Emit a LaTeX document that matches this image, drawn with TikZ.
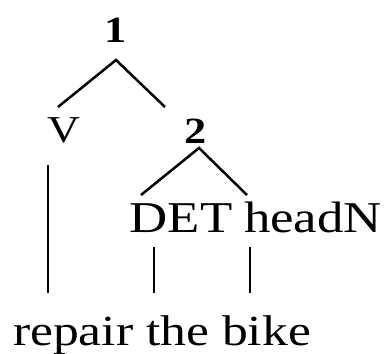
\documentclass[tikz,border=0pt]{standalone}
\usepackage{fontspec}
\setmainfont{Liberation Serif}
\newfontfamily\tf[FakeStretch=1.2]{Liberation Serif}
\begin{document}
\begin{tikzpicture}[x=1pt,y=-1pt,
  lbl/.style={inner sep=0pt,anchor=base,font=\tf\fontsize{44}{48}\selectfont},
  num/.style={inner sep=0pt,anchor=base,font=\tf\bfseries\fontsize{37}{40}\selectfont},
  edge/.style={line width=2.5pt}]
\useasboundingbox (0,0) rectangle (385,353);
\node[num] (n1) at (116,42) {1};
\node[lbl,font=\tf\fontsize{38}{40}\selectfont] (v) at (64,142) {V};
\node[num] (n2) at (196,143) {2};
\node[lbl] (det) at (181,232) {DET};
\node[lbl] (hn) at (313,232) {headN};
\node[lbl,font=\tf\fontsize{43}{46}\selectfont] (words) at (162,345) {repair the bike};
\coordinate (a1) at (116,60);
\coordinate (l1) at (58,107);
\coordinate (r1) at (165,107);
\coordinate (a2) at (199,148);
\coordinate (l2) at (141,195);
\coordinate (r2) at (247,195);
\coordinate (vt) at (48,165);
\coordinate (vb) at (48,293);
\coordinate (dt) at (154,247);
\coordinate (db) at (154,293);
\coordinate (ht) at (250,247);
\coordinate (hb) at (250,293);
\draw[edge] (l1) -- (a1) -- (r1);
\draw[edge] (l2) -- (a2) -- (r2);
\draw[edge] (vt) -- (vb);
\draw[edge] (dt) -- (db);
\draw[edge] (ht) -- (hb);
\end{tikzpicture}
\end{document}
